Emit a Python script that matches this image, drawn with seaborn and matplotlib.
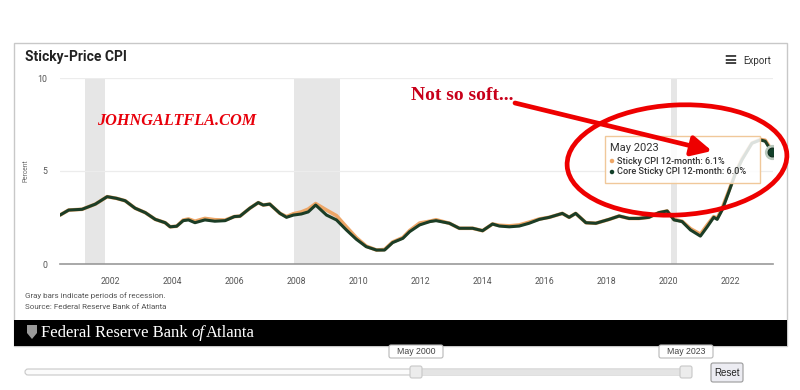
import matplotlib
matplotlib.use("Agg")
import matplotlib.pyplot as plt
import matplotlib.patches as mpatches
import numpy as np
import pandas as pd
import seaborn as sns

# ---------------- data ----------------
years = [2000.38, 2000.66, 2001.09, 2001.52, 2001.9, 2002.2, 2002.48, 2002.8, 2003.13, 2003.45,
         2003.77, 2003.93, 2004.14, 2004.35, 2004.52, 2004.73, 2005.05, 2005.37, 2005.7, 2006.0,
         2006.18, 2006.5, 2006.77, 2006.93, 2007.14, 2007.47, 2007.68, 2007.9, 2008.16, 2008.38,
         2008.62, 2008.97, 2009.29, 2009.61, 2009.93, 2010.25, 2010.58, 2010.84, 2011.1, 2011.43,
         2011.65, 2011.97, 2012.3, 2012.5, 2012.93, 2013.25, 2013.68, 2014.0, 2014.32, 2014.54,
         2014.86, 2015.18, 2015.5, 2015.83, 2016.15, 2016.57, 2016.79, 2017.0, 2017.33, 2017.65,
         2018.08, 2018.4, 2018.72, 2019.04, 2019.36, 2019.68, 2019.95, 2020.17, 2020.43, 2020.7,
         2021.02, 2021.24, 2021.45, 2021.56, 2021.72, 2021.94, 2022.15, 2022.36, 2022.68, 2022.95,
         2023.11, 2023.33]

core_sticky = [2.63, 2.9, 2.94, 3.22, 3.62, 3.53, 3.4, 3.0, 2.76, 2.4,
               2.22, 2.0, 2.03, 2.33, 2.37, 2.22, 2.37, 2.3, 2.33, 2.55,
               2.57, 3.0, 3.3, 3.17, 3.22, 2.72, 2.51, 2.63, 2.69, 2.8,
               3.17, 2.63, 2.37, 1.83, 1.33, 0.93, 0.75, 0.75, 1.15, 1.38,
               1.74, 2.1, 2.28, 2.33, 2.19, 1.92, 1.92, 1.79, 2.15, 2.04,
               2.0, 2.04, 2.19, 2.4, 2.51, 2.72, 2.51, 2.72, 2.22, 2.19,
               2.4, 2.58, 2.45, 2.45, 2.51, 2.76, 2.85, 2.37, 2.28, 1.83,
               1.5, 2.0, 2.51, 2.4, 2.9, 3.89, 4.87, 5.6, 6.49, 6.67,
               6.6, 6.0]

sticky = [2.63, 2.9, 2.94, 3.22, 3.62, 3.53, 3.4, 3.0, 2.76, 2.4,
          2.22, 2.0, 2.03, 2.36, 2.42, 2.3, 2.45, 2.38, 2.36, 2.55,
          2.57, 3.0, 3.3, 3.17, 3.22, 2.72, 2.55, 2.7, 2.8, 2.95,
          3.25, 2.9, 2.6, 2.0, 1.42, 0.96, 0.75, 0.78, 1.18, 1.42,
          1.8, 2.2, 2.3, 2.38, 2.19, 1.92, 1.92, 1.79, 2.15, 2.08,
          2.05, 2.1, 2.25, 2.42, 2.51, 2.72, 2.51, 2.72, 2.22, 2.19,
          2.4, 2.58, 2.45, 2.45, 2.51, 2.76, 2.85, 2.4, 2.3, 1.9,
          1.6, 2.1, 2.55, 2.45, 3.0, 3.95, 4.9, 5.65, 6.5, 6.7,
          6.65, 6.1]

recession_start = [2001.17, 2007.92, 2020.08]
recession_end = [2001.83, 2009.42, 2020.25]

year_ticks = [2002, 2004, 2006, 2008, 2010, 2012, 2014, 2016, 2018, 2020, 2022]
y_ticks = [0, 5, 10]

sticky_label = "Sticky CPI 12-month: 6.1%"
core_label = "Core Sticky CPI 12-month: 6.0%"
tooltip_date = "May 2023"

STICKY_COLOR = "#eda667"
CORE_COLOR = "#1b3d26"

# ---------------- style ----------------
sns.set_style("white")
plt.rcParams["font.family"] = ["Roboto", "DejaVu Sans"]

W, H = 800, 390
fig = plt.figure(figsize=(8, 3.9), dpi=100)
fig.patch.set_facecolor("white")

# background pixel-axes (card, footer, slider)
bg = fig.add_axes([0, 0, 1, 1], zorder=0)
bg.set_xlim(0, W)
bg.set_ylim(H, 0)
bg.axis("off")

bg.add_patch(mpatches.Rectangle((14, 43), 773, 303, facecolor="white",
                                edgecolor="#c8c8c8", lw=1.0))
bg.add_patch(mpatches.Rectangle((14, 320), 773, 26, facecolor="black",
                                edgecolor="black", lw=0))
# shield icon
bg.add_patch(mpatches.Polygon([(27, 325), (37, 325), (37, 333), (32, 339), (27, 333)],
                              closed=True, facecolor="#9a9a9a", edgecolor="none"))
bg.text(41, 333, "Federal Reserve Bank ", color="white", fontsize=12,
        family="Liberation Serif", va="center", ha="left")
bg.text(41 + 150, 333, "of", color="white", fontsize=12, style="italic",
        family="Liberation Serif", va="center", ha="left")
bg.text(41 + 165, 333, "Atlanta", color="white", fontsize=12,
        family="Liberation Serif", va="center", ha="left")

bg.text(25, 57, "Sticky-Price CPI", fontsize=10, fontweight="bold", color="#222222",
        va="center", ha="left")
bg.text(730, 60, "\u2261", fontsize=12, fontweight="bold", color="#444444",
        va="center", ha="center", family="DejaVu Sans")
bg.text(743, 61, "Export", fontsize=7, color="#333333", va="center", ha="left")

bg.text(25, 296, "Gray bars indicate periods of recession.", fontsize=5.8,
        color="#555555", va="center", ha="left")
bg.text(25, 307, "Source: Federal Reserve Bank of Atlanta", fontsize=5.8,
        color="#555555", va="center", ha="left")

# slider
bg.add_patch(mpatches.FancyBboxPatch((25, 369), 665, 6, boxstyle="round,pad=0,rounding_size=3",
                                     facecolor="#fbfbfb", edgecolor="#c8c8c8", lw=0.8))
bg.add_patch(mpatches.Rectangle((416, 369.5), 270, 5, facecolor="#e4e4e4", edgecolor="none"))
for hx in (416, 686):
    bg.add_patch(mpatches.FancyBboxPatch((hx - 6, 366), 12, 12,
                                         boxstyle="round,pad=0,rounding_size=2",
                                         facecolor="#ececec", edgecolor="#c8c8c8", lw=0.8))
for lx, lab in ((416, "May 2000"), (686, "May 2023")):
    bg.add_patch(mpatches.FancyBboxPatch((lx - 27, 345), 54, 13,
                                         boxstyle="round,pad=0,rounding_size=2",
                                         facecolor="white", edgecolor="#b8b8b8", lw=0.8))
    bg.text(lx, 351.5, lab, fontsize=6.3, color="#444444", ha="center", va="center",
            family="Liberation Sans")
bg.add_patch(mpatches.FancyBboxPatch((711, 363), 32, 19, boxstyle="round,pad=0,rounding_size=2",
                                     facecolor="#ececf2", edgecolor="#9a9a9a", lw=0.8))
bg.text(727, 372.5, "Reset", fontsize=7, color="#222222", ha="center", va="center",
        family="Liberation Sans")

# ---------------- main chart ----------------
ax_w = (773 - 60)
ax = fig.add_axes([60 / W, 1 - 264 / H, ax_w / W, (264 - 78) / H], zorder=1)
ax.set_facecolor("none")

for s, e in zip(recession_start, recession_end):
    ax.axvspan(s, e, ymin=0, ymax=1, color="#e6e6e6", lw=0, zorder=0)

for yv in y_ticks[1:]:
    ax.axhline(yv, color="#ececec", lw=0.9, zorder=0.5)

df = pd.DataFrame({"year": years, "sticky": sticky, "core": core_sticky})
sns.lineplot(data=df, x="year", y="sticky", ax=ax, color=STICKY_COLOR, lw=2.6, zorder=2)
sns.lineplot(data=df, x="year", y="core", ax=ax, color=CORE_COLOR, lw=2.2, zorder=3)

ax.scatter([years[-1]], [core_sticky[-1]], s=120, color="#b9c9bd", zorder=4, lw=0)
ax.scatter([years[-1]], [core_sticky[-1]], s=40, color="#12402a", edgecolor="#0c2a1b",
           zorder=5, lw=0.8)

ax.set_xlim(2000.38, 2023.36)
ax.set_ylim(0, 10)
ax.set_xticks(year_ticks)
ax.set_xticklabels([str(y) for y in year_ticks])
ax.set_yticks(y_ticks)
ax.set_yticklabels([str(y) for y in y_ticks])
ax.tick_params(axis="x", length=4, width=0.8, color="#999999", labelsize=6.3,
               labelcolor="#555555", pad=5)
ax.tick_params(axis="y", length=0, labelsize=6.3, labelcolor="#555555", pad=9)
for sp in ("top", "right", "left"):
    ax.spines[sp].set_visible(False)
ax.spines["bottom"].set_color("#999999")
ax.spines["bottom"].set_linewidth(1.2)
ax.set_xlabel("")
ax.set_ylabel("Percent", fontsize=4.8, color="#666666")
ax.yaxis.set_label_coords(-31 / ax_w, 0.5)

# ---------------- foreground annotations ----------------
fg = fig.add_axes([0, 0, 1, 1], zorder=2)
fg.set_xlim(0, W)
fg.set_ylim(H, 0)
fg.axis("off")
fg.patch.set_alpha(0)

fg.text(97, 121, "JOHNGALTFLA.COM", color="#e8000b", fontsize=11.7, fontweight="bold",
        style="italic", family="Liberation Serif", va="center", ha="left")
fg.text(411, 95, "Not so soft...", color="#c8001a", fontsize=14, fontweight="bold",
        family="Liberation Serif", va="center", ha="left")

# tooltip
fg.add_patch(mpatches.Rectangle((605, 136), 155, 47, facecolor="white", alpha=0.85,
                                edgecolor="none"))
fg.add_patch(mpatches.Rectangle((605, 136), 155, 47, facecolor="none",
                                edgecolor="#f0c89a", lw=1.0))
fg.text(610, 148, tooltip_date, fontsize=8, color="#333333", va="center", ha="left")
fg.scatter([612, 612], [161, 172], s=5, color=[STICKY_COLOR, "#12402a"], zorder=5)
fg.text(617, 161, sticky_label, fontsize=6.6, color="#333333", va="center", ha="left",
        fontweight="medium")
fg.text(617, 172, core_label, fontsize=6.6, color="#333333", va="center", ha="left",
        fontweight="medium")

# red arrow and ellipse
fg.annotate("", xy=(712, 151), xytext=(515, 103),
            arrowprops=dict(arrowstyle="-|>,head_length=1.2,head_width=0.6",
                            color="#ee0000", lw=3.4, shrinkA=0, shrinkB=0))
fg.add_patch(mpatches.Ellipse((677, 160), 220, 110, angle=-3, facecolor="none",
                              edgecolor="#ee0000", lw=3.4))

fig.savefig("out.png", dpi=100, facecolor="white")
